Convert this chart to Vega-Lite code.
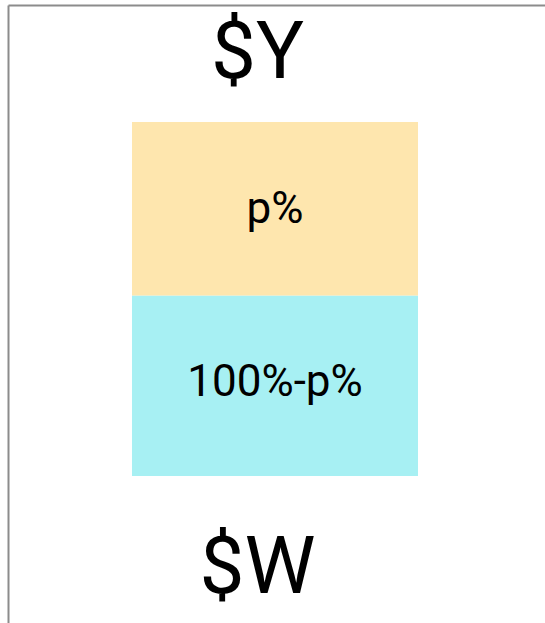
{
  "$schema": "https://vega.github.io/schema/vega-lite/v6.json",
  "width": 537,
  "height": 618,
  "padding": {"left": 8, "top": 5, "right": 0, "bottom": 0},
  "autosize": {"type": "none"},
  "background": "white",
  "config": {"view": {"stroke": null}, "font": "Roboto"},
  "data": {"values": [
    {"group": "A", "segment": "100%-p%", "share": 51, "rank": 1},
    {"group": "A", "segment": "p%", "share": 49, "rank": 2}
  ]},
  "layer": [
    {
      "mark": {"type": "bar", "opacity": 1},
      "encoding": {
        "x": {"field": "group", "type": "nominal",
          "scale": {"paddingInner": 0, "paddingOuter": 0.4388, "align": 0.494},
          "axis": {"orient": "top", "labels": false, "ticks": false, "grid": false,
            "domain": true, "domainColor": "#8c8c8c", "domainWidth": 2,
            "title": "$Y", "titleFont": "Roboto", "titleFontSize": 80, "titleFontWeight": "normal",
            "titleColor": "#000000", "titleBaseline": "alphabetic", "titleAlign": "center",
            "titleX": 249, "titleY": 72}},
        "y": {"field": "share", "type": "quantitative", "stack": "zero",
          "scale": {"domain": [-41.53, 133.05], "nice": false, "zero": false},
          "axis": {"orient": "left", "labels": false, "ticks": false, "grid": false,
            "domain": true, "domainColor": "#8c8c8c", "domainWidth": 2, "title": null}},
        "color": {"field": "segment", "type": "nominal",
          "scale": {"domain": ["100%-p%", "p%"], "range": ["#A7F0F3", "#FEE6AE"]},
          "legend": null},
        "order": {"field": "rank", "type": "quantitative"}
      }
    },
    {
      "mark": {"type": "text", "font": "Roboto", "fontSize": 44, "color": "#000000",
        "baseline": "middle", "align": "center", "dy": 88},
      "encoding": {
        "x": {"field": "group", "type": "nominal",
          "axis": {"orient": "bottom", "labels": false, "ticks": false, "grid": false,
            "domain": false,
            "title": "$W", "titleFont": "Roboto", "titleFontSize": 80, "titleFontWeight": "normal",
            "titleColor": "#000000", "titleBaseline": "alphabetic", "titleAlign": "center",
            "titleX": 249, "titleY": -31}},
        "y": {"field": "share", "type": "quantitative", "stack": "zero"},
        "text": {"field": "segment", "type": "nominal"},
        "order": {"field": "rank", "type": "quantitative"}
      }
    }
  ],
  "resolve": {"axis": {"x": "independent", "y": "shared"}}
}
